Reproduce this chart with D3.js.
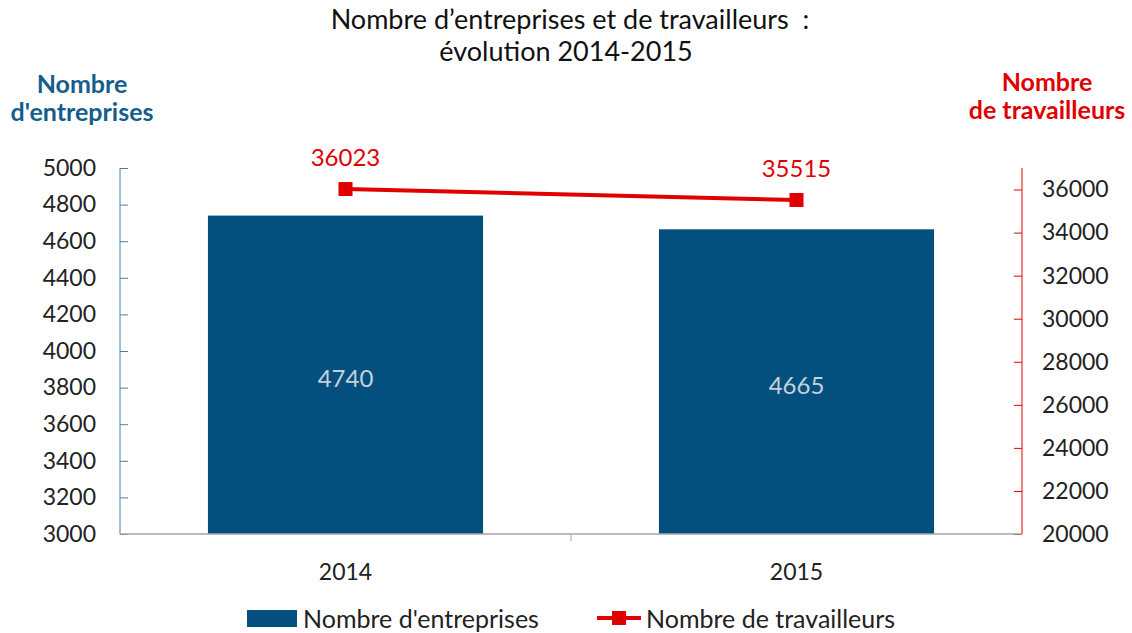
<!DOCTYPE html>
<html>
<head>
<meta charset="utf-8">
<script src="https://cdn.jsdelivr.net/npm/d3@7"></script>
<style>
  body { margin: 0; background: #fff; }
  svg text { font-family: Lato, "Open Sans", sans-serif; }
</style>
</head>
<body>
<div id="chart"></div>
<script>
// data
const years = ["2014", "2015"];
const entreprises = [4740, 4665];
const travailleurs = [36023, 35515];
const leftTicks = [3000, 3200, 3400, 3600, 3800, 4000, 4200, 4400, 4600, 4800, 5000];
const rightTicks = [20000, 22000, 24000, 26000, 28000, 30000, 32000, 34000, 36000];

const width = 1132, height = 633;
const plotLeft = 120, plotRight = 1022, plotTop = 168, plotBottom = 534;
const barColor = "#03507e", lineColor = "#e00000";

const svg = d3.select("#chart").append("svg")
  .attr("width", width)
  .attr("height", height);

// scales
const xScale = d3.scaleBand().domain(years).range([plotLeft, plotRight]).paddingInner(0.39).paddingOuter(0.195);
const yLeft = d3.scaleLinear().domain([3000, 5000]).range([plotBottom, plotTop]);
const yRight = d3.scaleLinear().domain([20000, 37000]).range([plotBottom, plotTop]);
const xCenter = d => xScale(d) + xScale.bandwidth() / 2;

// title
svg.append("text").attr("x", 570).attr("y", 29).attr("text-anchor", "middle")
  .style("font-size", "27px").style("fill", "#111")
  .text("Nombre d\u2019entreprises et de travailleurs\u00a0\u00a0:");
svg.append("text").attr("x", 566).attr("y", 61).attr("text-anchor", "middle")
  .style("font-size", "27px").style("fill", "#111")
  .text("évolution 2014-2015");

// axis titles
const lt = svg.append("text").attr("text-anchor", "middle")
  .style("font-size", "25px").style("font-weight", "bold").style("fill", "#155e8c");
lt.append("tspan").attr("x", 82).attr("y", 93).text("Nombre");
lt.append("tspan").attr("x", 82).attr("y", 121).text("d'entreprises");
const rt = svg.append("text").attr("text-anchor", "middle")
  .style("font-size", "25px").style("font-weight", "bold").style("fill", lineColor);
rt.append("tspan").attr("x", 1047).attr("y", 91).text("Nombre");
rt.append("tspan").attr("x", 1047).attr("y", 119).text("de travailleurs");

// bars
svg.selectAll("rect.bar").data(entreprises).enter().append("rect")
  .attr("class", "bar")
  .attr("x", (d, i) => xScale(years[i]))
  .attr("y", d => yLeft(d))
  .attr("width", xScale.bandwidth())
  .attr("height", d => plotBottom - yLeft(d))
  .style("fill", barColor);

svg.selectAll("text.barlabel").data(entreprises).enter().append("text")
  .attr("class", "barlabel")
  .attr("x", (d, i) => xCenter(years[i]))
  .attr("y", d => (yLeft(d) + plotBottom) / 2 + 12)
  .attr("text-anchor", "middle")
  .style("font-size", "24px").style("fill", "#c5d0dc")
  .text(d => d);

// left axis
const leftAxis = svg.append("g")
  .attr("transform", "translate(" + plotLeft + ",0)")
  .call(d3.axisLeft(yLeft).tickValues(leftTicks).tickFormat(d3.format("d")).tickSize(-8).tickPadding(24));
leftAxis.select(".domain").attr("stroke", "#4a7eab").attr("d", "M0," + plotTop + "V" + plotBottom);
leftAxis.selectAll(".tick line").attr("stroke", "#4a7eab");
leftAxis.selectAll(".tick text").style("font-size", "23px").style("fill", "#222")
  .style("font-family", "Lato, sans-serif");

// right axis
const rightAxis = svg.append("g")
  .attr("transform", "translate(" + plotRight + ",0)")
  .call(d3.axisRight(yRight).tickValues(rightTicks).tickFormat(d3.format("d")).tickSize(-8).tickPadding(20));
rightAxis.select(".domain").attr("stroke", lineColor).attr("d", "M0," + plotTop + "V" + plotBottom);
rightAxis.selectAll(".tick line").attr("stroke", lineColor);
rightAxis.selectAll(".tick text").style("font-size", "23px").style("fill", "#222")
  .style("font-family", "Lato, sans-serif");

// bottom axis
svg.append("line").attr("x1", plotLeft).attr("x2", plotRight).attr("y1", plotBottom).attr("y2", plotBottom)
  .attr("stroke", "#a6a6a6").attr("stroke-width", 1.5);
const sep = (xCenter(years[0]) + xCenter(years[1])) / 2;
svg.append("line").attr("x1", sep).attr("x2", sep).attr("y1", plotBottom).attr("y2", plotBottom + 7)
  .attr("stroke", "#a6a6a6");
svg.selectAll("text.xlabel").data(years).enter().append("text")
  .attr("class", "xlabel")
  .attr("x", d => xCenter(d)).attr("y", 580)
  .attr("text-anchor", "middle")
  .style("font-size", "23px").style("fill", "#222")
  .text(d => d);

// line
const line = d3.line().x((d, i) => xCenter(years[i])).y(d => yRight(d));
svg.append("path").datum(travailleurs)
  .attr("d", line)
  .attr("fill", "none").attr("stroke", lineColor).attr("stroke-width", 4);
svg.selectAll("rect.marker").data(travailleurs).enter().append("rect")
  .attr("class", "marker")
  .attr("x", (d, i) => xCenter(years[i]) - 7)
  .attr("y", d => yRight(d) - 7)
  .attr("width", 14).attr("height", 14)
  .style("fill", lineColor);
svg.selectAll("text.linelabel").data(travailleurs).enter().append("text")
  .attr("class", "linelabel")
  .attr("x", (d, i) => xCenter(years[i]))
  .attr("y", d => yRight(d) - 23)
  .attr("text-anchor", "middle")
  .style("font-size", "24px").style("fill", lineColor)
  .text(d => d);

// legend
const legend = svg.append("g");
legend.append("rect").attr("x", 247).attr("y", 610).attr("width", 50).attr("height", 17)
  .style("fill", barColor);
legend.append("text").attr("x", 303).attr("y", 628)
  .style("font-size", "25px").style("fill", "#222").text("Nombre d'entreprises");
legend.append("line").attr("x1", 597).attr("x2", 641).attr("y1", 618).attr("y2", 618)
  .attr("stroke", lineColor).attr("stroke-width", 4);
legend.append("rect").attr("x", 612).attr("y", 611).attr("width", 14).attr("height", 14)
  .style("fill", lineColor);
legend.append("text").attr("x", 646).attr("y", 628)
  .style("font-size", "25px").style("fill", "#222").text("Nombre de travailleurs");
</script>
</body>
</html>
